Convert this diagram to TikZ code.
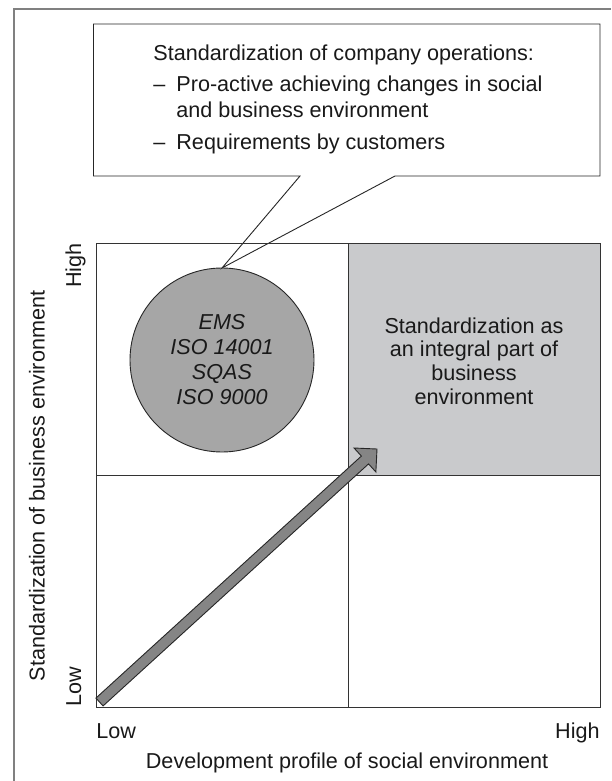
\documentclass[tikz,border=0pt]{standalone}
\usepackage{fontspec}
\setmainfont{Liberation Sans}
\usetikzlibrary{calc}

\definecolor{circgray}{HTML}{A6A6A6}
\definecolor{boxgray}{HTML}{C9CACC}
\definecolor{arrgray}{HTML}{858585}
\definecolor{framegray}{HTML}{808080}

\begin{document}
\begin{tikzpicture}[x=0.5pt,y=-0.5pt,
        lbl/.style={font=\fontsize{10.8pt}{12.5pt}\selectfont, inner sep=0pt, text=black!90},
        quad/.style={draw=black!80, line width=0.5pt},
        thin line/.style={draw=black!85, line width=0.45pt}]
        \useasboundingbox (0,0) rectangle (611,781);

        % outer frame (cut off at right and bottom)
        \draw[framegray, line width=1pt] (14,781) -- (14,9) -- (611,9);

        % shaded quadrant
        \fill[boxgray] (348,243) rectangle (600,475);

        % circle with the standards
        \node[circle, thin line, fill=circgray, minimum size=92pt, inner sep=0pt, outer sep=0pt,
              lbl, font=\fontsize{10.8pt}{12.5pt}\selectfont\itshape, align=center] (ems) at (222,360)
            {EMS\\ISO 14001\\SQAS\\ISO 9000};

        % callout box with its tail on the circle
        \node[minimum width=253.25pt, minimum height=76pt, inner sep=0pt, outer sep=0pt] (callout) at (346.75,100) {};
        \draw[thin line, fill=white] (callout.north west) -- (callout.north east) -- (callout.south east)
            -- ($(callout.south west)+(301.5,0)$) -- (ems.north) -- ($(callout.south west)+(206.5,0)$)
            -- (callout.south west) -- cycle;

        \node[lbl, anchor=base west] (head) at (153,61) {Standardization of company operations:};
        \node[lbl, anchor=base west] (dasha) at (153,92) {--};
        \node[lbl, anchor=base west] (itema) at (176,92) {Pro-active achieving changes in social};
        \node[lbl, anchor=base west] (itemb) at (176,118) {and business environment};
        \node[lbl, anchor=base west] (dashb) at (153,149) {--};
        \node[lbl, anchor=base west] (itemc) at (176,149) {Requirements by customers};

        % quadrants
        \draw[quad] (96,243) rectangle (600,707);
        \draw[quad] (348,243) -- (348,707);
        \draw[quad] (96,475) -- (600,475);

        \node[lbl, align=center, font=\fontsize{10.8pt}{11.9pt}\selectfont] (integral) at (474,361)
            {Standardization as\\an integral part of\\business\\environment};

        % big arrow from low/low to high/high
        \coordinate (tail) at (99.5,702);
        \coordinate (tip) at (377,449);
        \coordinate (hb) at ($(tail)!0.9566!(tip)$);
        \draw[thin line, fill=arrgray, line join=miter]
            ($(tail)!2.65pt!90:(tip)$) -- ($(hb)!2.65pt!90:(tip)$) -- ($(hb)!8.1pt!90:(tip)$) -- (tip)
            -- ($(hb)!8.1pt!-90:(tip)$) -- ($(hb)!2.65pt!-90:(tip)$) -- ($(tail)!2.65pt!-90:(tip)$) -- cycle;

        % axis labels
        \node[lbl, rotate=90] (ylab) at (37,486) {Standardization of business environment};
        \node[lbl, rotate=90, anchor=base east] (yhigh) at (81,243) {High};
        \node[lbl, rotate=90, anchor=base west] (ylow) at (81,707) {Low};
        \node[lbl, anchor=base west] (xlow) at (96,738) {Low};
        \node[lbl, anchor=base east] (xhigh) at (600,738) {High};
        \node[lbl, anchor=base] (xlab) at (347,768) {Development profile of social environment};
\end{tikzpicture}
\end{document}
